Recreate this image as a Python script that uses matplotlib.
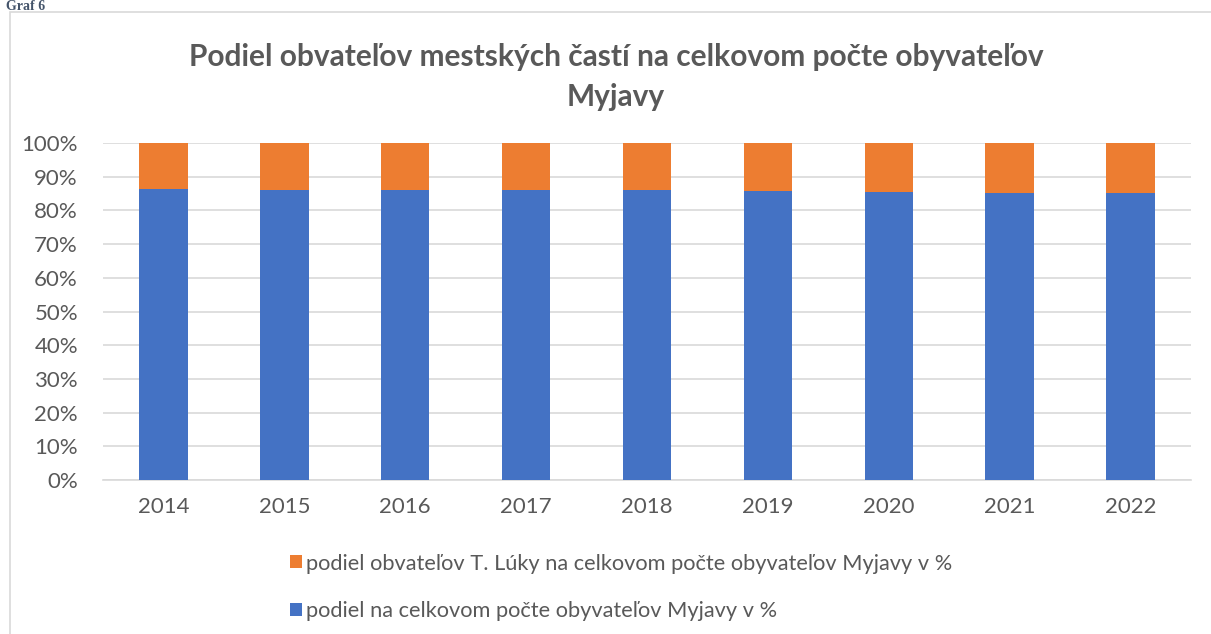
import matplotlib
matplotlib.use("Agg")
import matplotlib.pyplot as plt
from matplotlib.patches import Rectangle
from matplotlib.ticker import FuncFormatter

years = ["2014", "2015", "2016", "2017", "2018", "2019", "2020", "2021", "2022"]
share_myjava = [86.3, 86.2, 86.2, 86.2, 86.2, 85.9, 85.6, 85.3, 85.1]
share_tluky = [100 - v for v in share_myjava]

label_tluky = "podiel obvateľov T. Lúky na celkovom počte obyvateľov Myjavy v %"
label_myjava = "podiel na celkovom počte obyvateľov Myjavy v %"
title = "Podiel obvateľov mestských častí na celkovom počte obyvateľov\nMyjavy"

blue = "#4472C4"
orange = "#ED7D31"
txt = "#595959"

plt.rcParams['font.family'] = ['Lato', 'DejaVu Sans']

W, H = 1211, 634
fig = plt.figure(figsize=(W / 100, H / 100), dpi=100)

# outer chart border
fig.patches.append(Rectangle((10 / W, -0.1), 1.2, (H - 12) / H + 0.1, transform=fig.transFigure,
                             fill=False, edgecolor="#D9D9D9", linewidth=1.2))
# caption at the top-left
fig.text(6 / W, 1 - 10 / H, "Graf 6", fontsize=10, fontweight="bold", color="#44546A",
         family="Liberation Serif", ha="left", va="baseline")

ax = fig.add_axes([103 / W, 1 - 480 / H, (1191 - 103) / W, (480 - 143) / H])
x = range(len(years))
ax.bar(x, share_myjava, width=0.4, color=blue, zorder=3, label=label_myjava)
ax.bar(x, share_tluky, width=0.4, bottom=share_myjava, color=orange, zorder=3, label=label_tluky)

ax.set_xlim(-0.5, len(years) - 0.5)
ax.set_ylim(0, 100)
ax.set_yticks(range(0, 101, 10))
ax.yaxis.set_major_formatter(FuncFormatter(lambda v, p: f"{int(v)}%"))
ax.set_xticks(list(x))
ax.set_xticklabels(years)
ax.grid(axis="y", color="#D9D9D9", linewidth=1.2, zorder=0)
for s in ["top", "right", "left"]:
    ax.spines[s].set_visible(False)
ax.spines["bottom"].set_color("#D9D9D9")
ax.spines["bottom"].set_linewidth(1.2)
ax.tick_params(axis="both", length=0, labelsize=16, colors=txt)
ax.tick_params(axis="x", pad=12)
ax.tick_params(axis="y", pad=18)

fig.text(616 / W, 1 - 77 / H, title, ha="center", va="center",
         fontsize=21.5, fontweight="bold", color=txt, linespacing=1.5)

handles, labels = ax.get_legend_handles_labels()
leg = fig.legend(handles[::-1], labels[::-1], loc="upper left",
                 bbox_to_anchor=(270 / W, 1 - 534 / H), frameon=False,
                 fontsize=15.7, labelcolor=txt, handlelength=0.55, handleheight=0.55,
                 handletextpad=0.2, labelspacing=1.25)

fig.savefig("out.png", dpi=100)
